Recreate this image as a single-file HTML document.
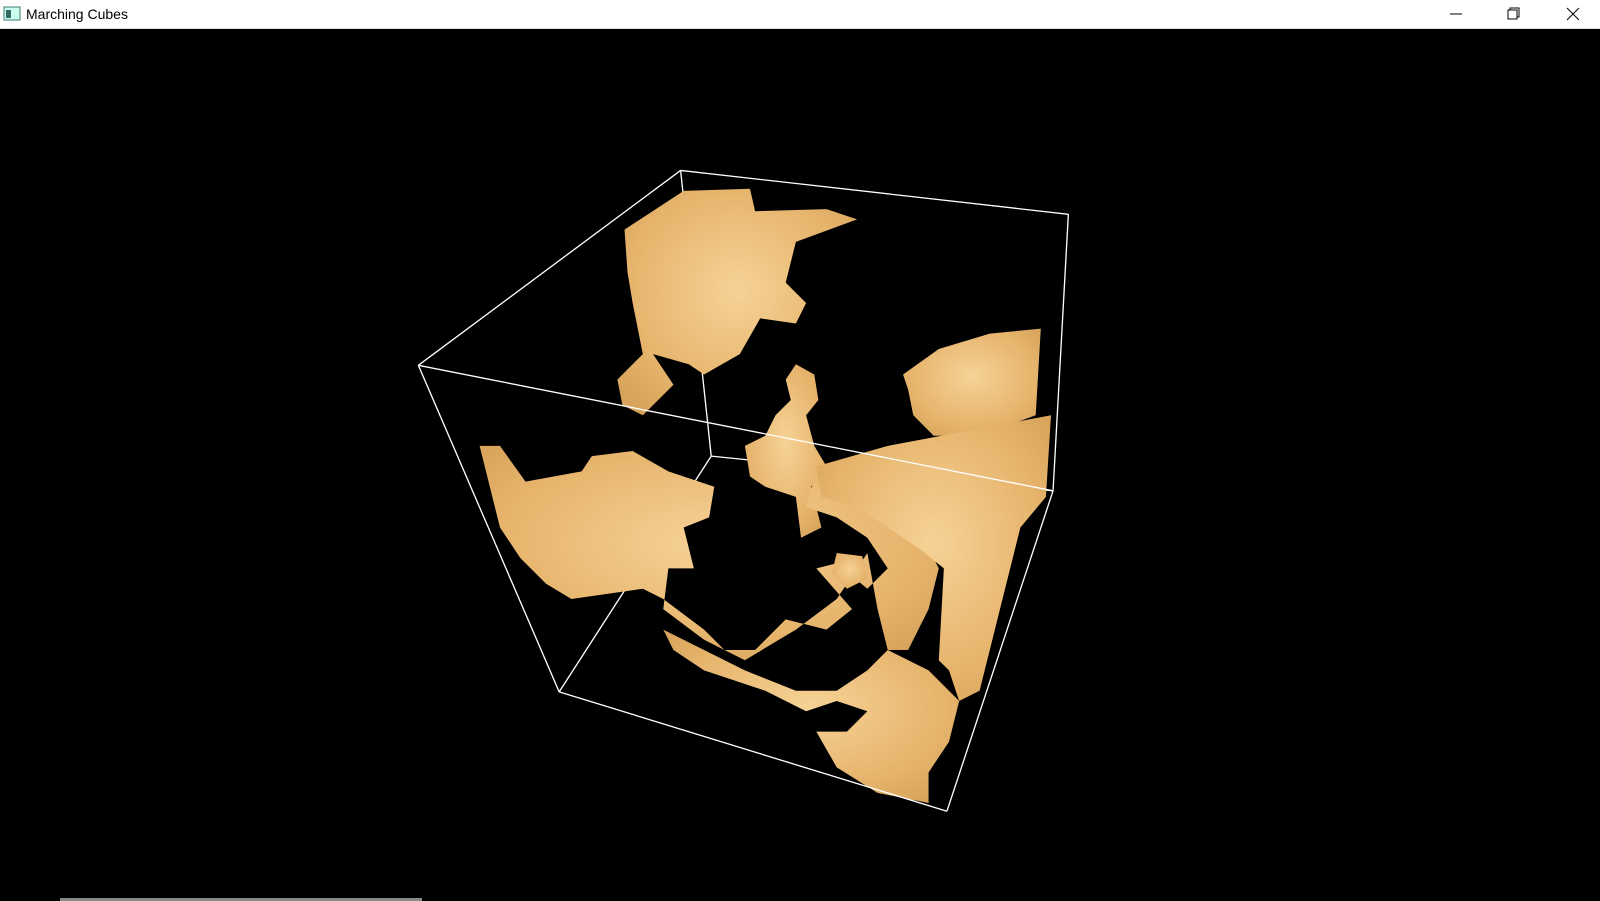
<!DOCTYPE html>
<html><head><meta charset="utf-8"><style>
html,body{margin:0;padding:0;width:1600px;height:901px;overflow:hidden;background:#000;font-family:"Liberation Sans",sans-serif}
#title{position:absolute;left:0;top:0;width:1600px;height:28px;background:#fff;border-bottom:1px solid #ddd}
#title span{position:absolute;left:26px;top:6px;font-size:14px;color:#000}
</style></head><body>
<div id="title">
<svg width="18" height="16" style="position:absolute;left:3px;top:6px"><rect x="1" y="1" width="16" height="13" fill="#cfe" stroke="#477" /><rect x="3" y="4" width="5" height="8" fill="#366"/></svg>
<span>Marching Cubes</span>
<svg width="1600" height="28" style="position:absolute;left:0;top:0">
<line x1="1450" y1="14" x2="1462" y2="14" stroke="#000"/>
<g fill="none" stroke="#000"><rect x="1508" y="10" width="9" height="9"/><path d="M1510 10 V8 H1519 V17 H1517"/></g>
<g stroke="#000"><line x1="1567" y1="8" x2="1579" y2="20"/><line x1="1579" y1="8" x2="1567" y2="20"/></g>
</svg></div>
<svg width="1600" height="901" style="position:absolute;left:0;top:0">
<defs><radialGradient id="g" cx="50%" cy="45%" r="65%"><stop offset="0" stop-color="#f6d296"/><stop offset="0.7" stop-color="#e6b46c"/><stop offset="1" stop-color="#d8a45c"/></radialGradient></defs>
<g transform="scale(1.0204)">
<g stroke="#fff" stroke-width="1.3" fill="none">
<line x1="667" y1="167" x2="697" y2="447"/><line x1="697" y1="447" x2="548" y2="678"/><line x1="697" y1="447" x2="1032" y2="481"/>
</g>
<g fill="url(#g)" transform="translate(-10,-3)">
<path d="M622 228 L680 190 L745 188 L750 210 L820 208 L850 218 L790 240 L780 280 L800 300 L790 320 L755 315 L735 350 L700 370 L685 360 L650 350 L670 380 L640 410 L620 400 L615 375 L640 350 L630 300 L625 270 Z"/>
<path d="M790 360 L808 370 L812 395 L800 410 L808 440 L820 460 L805 480 L815 520 L795 530 L790 490 L760 480 L745 470 L740 440 L760 430 L770 410 L785 395 L780 375 Z"/>
<path d="M895 370 L930 345 L980 330 L1030 325 L1025 410 L970 430 L925 430 L905 410 L900 385 Z"/>
<path d="M480 440 L500 440 L525 475 L580 465 L590 450 L630 445 L665 465 L710 480 L705 510 L680 520 L690 560 L665 560 L660 600 L700 630 L740 650 L790 620 L830 590 L850 560 L860 545 L870 600 L880 640 L900 640 L920 600 L930 560 L915 530 L880 510 L860 470 L810 465 L800 500 L830 510 L860 530 L880 560 L860 580 L830 555 L810 560 L845 600 L820 620 L780 610 L750 640 L720 640 L700 620 L660 590 L640 580 L570 590 L545 575 L520 550 L500 520 Z"/>
<path d="M810 460 L880 440 L1040 410 L1035 490 L1010 520 L990 600 L970 680 L950 690 L940 660 L930 650 L935 560 L910 540 L880 520 L850 500 L815 490 Z"/>
<path d="M660 620 L700 640 L740 660 L790 680 L830 680 L860 660 L880 640 L920 660 L950 690 L940 730 L920 760 L920 790 L870 780 L830 755 L810 720 L840 720 L860 700 L830 690 L800 700 L760 680 L700 660 L670 640 Z"/>
<path d="M830 545 L855 548 L860 570 L840 580 L825 565 Z"/>
</g>
<g stroke="#fff" stroke-width="1.3" fill="none">
<line x1="667" y1="167" x2="1047" y2="210"/><line x1="667" y1="167" x2="410" y2="358"/>
<line x1="1047" y1="210" x2="1032" y2="481"/><line x1="410" y1="358" x2="1032" y2="481"/>
<line x1="410" y1="358" x2="548" y2="678"/><line x1="548" y1="678" x2="928" y2="795"/>
<line x1="928" y1="795" x2="1032" y2="481"/>
</g>
</g>
<rect x="60" y="898" width="362" height="3" fill="#888"/>
</svg>
</body></html>
